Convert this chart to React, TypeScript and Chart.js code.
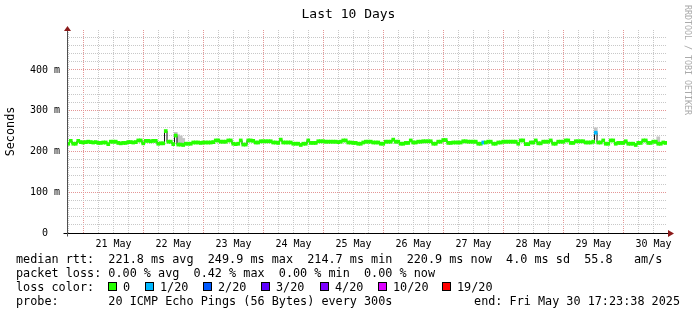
import React, { useEffect, useRef } from "react";
import { Chart, registerables } from "chart.js";

Chart.register(...registerables);

// ---------- text ----------
const TITLE = "Last 10 Days";
const Y_TITLE = "Seconds";
const CREDIT = "RRDTOOL / TOBI OETIKER";
const STAT_LINES = [
  "median rtt:  221.8 ms avg  249.9 ms max  214.7 ms min  220.9 ms now  4.0 ms sd  55.8   am/s",
  "packet loss: 0.00 % avg  0.42 % max  0.00 % min  0.00 % now",
];
const LOSS_TITLE = "loss color:";
const PROBE_TEXT = "probe:       20 ICMP Echo Pings (56 Bytes) every 300s";
const END_TEXT = "end: Fri May 30 17:23:38 2025";

// ---------- axes ----------
const SPAN_HOURS = 240; // 20 May 17:23:38 -> 30 May 17:23:38
const FIRST_MIDNIGHT_HOUR = 6.606; // 21 May 00:00 relative to start
const DAY_LABELS = ["21 May", "22 May", "23 May", "24 May", "25 May", "26 May", "27 May", "28 May", "29 May", "30 May"];
const Y_MAX_MS = 498;
const Y_TICK_MS = [0, 20, 40, 60, 80, 100, 120, 140, 160, 180, 200, 220, 240, 260, 280, 300, 320, 340, 360, 380, 400, 420, 440, 460, 480];

// ---------- data: hourly median rtt (ms) ----------
const MEDIAN_MS = [
  219, 226, 219, 219, 226, 223, 222, 223, 224, 223,
  222, 223, 221, 221, 222, 222, 218, 224, 224, 224,
  221, 220, 221, 221, 223, 223, 222, 223, 227, 227,
  220, 226, 226, 225, 226, 226, 219, 220, 220, 250,
  224, 224, 218, 239, 217, 217, 216, 219, 219, 219,
  222, 222, 222, 221, 222, 222, 222, 222, 223, 227,
  227, 224, 224, 224, 227, 227, 219, 218, 219, 227,
  217, 217, 227, 227, 226, 222, 222, 225, 225, 225,
  225, 225, 222, 222, 221, 229, 222, 222, 222, 222,
  219, 219, 219, 216, 219, 219, 227, 221, 221, 221,
  225, 225, 225, 224, 224, 224, 224, 224, 223, 224,
  227, 227, 222, 222, 221, 221, 219, 219, 222, 224,
  224, 224, 222, 222, 222, 219, 219, 224, 224, 224,
  229, 224, 224, 219, 219, 221, 221, 227, 222, 222,
  224, 224, 225, 225, 225, 225, 219, 219, 224, 224,
  228, 228, 221, 221, 222, 222, 222, 222, 225, 225,
  224, 224, 224, 224, 219, 219, 222, 222, 224, 224,
  219, 219, 222, 222, 224, 224, 224, 224, 224, 224,
  219, 227, 227, 218, 218, 222, 222, 227, 220, 220,
  224, 224, 224, 227, 219, 219, 224, 224, 224, 227,
  227, 221, 221, 225, 225, 225, 225, 222, 222, 222,
  224, 246, 222, 222, 227, 219, 219, 227, 227, 219,
  221, 221, 221, 225, 219, 219, 219, 216, 221, 221,
  227, 227, 221, 221, 224, 224, 219, 219, 222, 221,
];
const LOSS_HOURS = [166, 211];
const LOSS_PINGS = [1, 1];
const SMOKE_HOURS = [43, 44, 45, 46, 211, 236];
const SMOKE_TOP_MS = [247, 241, 238, 232, 258, 236];

// ---------- loss legend ----------
const LOSS_STEPS = [0, 1, 2, 3, 4, 10, 19];
const LOSS_LABELS = ["0", "1/20", "2/20", "3/20", "4/20", "10/20", "19/20"];
const LOSS_COLORS = ["#26ff00", "#00b8ff", "#0059ff", "#5e00ff", "#7e00ff", "#dd00ff", "#ff0000"];
const LOSS_BOX_LEFT = [108, 145, 203, 261, 320, 378, 442];

const MONO = '"DejaVu Sans Mono", monospace';
const GRID_COLOR = "rgb(200,200,200)";
const MGRID_COLOR = "rgb(228,150,150)";

function lossColor(pings: number): string {
  let c = LOSS_COLORS[0];
  LOSS_STEPS.forEach((s, i) => {
    if (pings >= s) c = LOSS_COLORS[i];
  });
  return c;
}

function stepIndex(v: number): number {
  return Math.round((v - FIRST_MIDNIGHT_HOUR) / 6);
}

// 6-hourly grid positions (hours from start), aligned on midnights
const X_GRID_HOURS: number[] = [];
for (let k = -1; k < 60; k++) {
  const v = FIRST_MIDNIGHT_HOUR + 6 * k;
  if (v >= 0 && v <= SPAN_HOURS) X_GRID_HOURS.push(v);
}

const axesPlugin = {
  id: "rrdAxes",
  afterDraw(chart: any) {
    const { ctx, chartArea } = chart;
    const left = Math.round(chartArea.left) + 0.5;
    const right = Math.round(chartArea.right);
    const top = Math.round(chartArea.top);
    const bottom = Math.round(chartArea.bottom) + 0.5;
    ctx.save();
    ctx.lineWidth = 1;
    ctx.strokeStyle = "#000";
    ctx.beginPath();
    ctx.moveTo(left - 4, bottom);
    ctx.lineTo(right + 1, bottom);
    ctx.stroke();
    ctx.strokeStyle = "#505050";
    ctx.beginPath();
    ctx.moveTo(left, bottom + 3);
    ctx.lineTo(left, top + 1);
    ctx.stroke();
    ctx.fillStyle = "#8b1a1a";
    ctx.beginPath();
    ctx.moveTo(left - 3.5, top + 1);
    ctx.lineTo(left + 3.5, top + 1);
    ctx.lineTo(left, top - 4);
    ctx.closePath();
    ctx.fill();
    ctx.beginPath();
    ctx.moveTo(right + 1, bottom - 3.5);
    ctx.lineTo(right + 1, bottom + 3.5);
    ctx.lineTo(right + 7, bottom);
    ctx.closePath();
    ctx.fill();
    ctx.restore();
  },
};

export default function App() {
  const canvasRef = useRef<HTMLCanvasElement | null>(null);

  useEffect(() => {
    document.body.style.margin = "0";
    const canvas = canvasRef.current;
    if (!canvas) return;
    const BAND = 3.8;
    const medianBand = MEDIAN_MS.map((v, i) => ({ x: i + 0.5, y: [v - BAND, v + BAND] }));
    const bandColors = MEDIAN_MS.map((_, i) => {
      const j = LOSS_HOURS.indexOf(i);
      return lossColor(j < 0 ? 0 : LOSS_PINGS[j]);
    });
    const medianLine = MEDIAN_MS.map((v, i) => ({ x: i + 0.5, y: v }));
    const smoke = SMOKE_HOURS.map((h, j) => ({ x: h + 0.5, y: [MEDIAN_MS[h], SMOKE_TOP_MS[j]] }));

    const xGridColors = X_GRID_HOURS.map((v) => {
      const k = stepIndex(v);
      return k >= 0 && k % 4 === 0 ? MGRID_COLOR : GRID_COLOR;
    });
    const yGridColors = Y_TICK_MS.map((v) => (v % 100 === 0 ? MGRID_COLOR : GRID_COLOR));

    const chart = new Chart(canvas, {
      type: "line",
      data: {
        datasets: [
          {
            type: "bar",
            label: "median",
            data: medianBand as any,
            backgroundColor: bandColors,
            borderWidth: 0,
            barThickness: 3,
            grouped: false,
            order: 0,
          } as any,
          {
            type: "line",
            label: "edge",
            data: medianLine as any,
            stepped: "middle",
            borderColor: "#111111",
            borderWidth: 1,
            pointRadius: 0,
            fill: false,
            order: 1,
          } as any,
          {
            type: "bar",
            label: "smoke",
            data: smoke as any,
            backgroundColor: "#c4c4c4",
            borderWidth: 0,
            barThickness: 3,
            grouped: false,
            order: 2,
          } as any,
        ],
      },
      options: {
        animation: false,
        responsive: false,
        devicePixelRatio: 1,
        events: [],
        layout: { padding: { top: 30, left: 0, right: 30, bottom: 62 } },
        plugins: { legend: { display: false }, tooltip: { enabled: false }, title: { display: false } },
        scales: {
          x: {
            type: "linear",
            min: 0,
            max: SPAN_HOURS,
            offset: false,
            afterBuildTicks: (scale: any) => {
              scale.ticks = X_GRID_HOURS.map((v) => ({ value: v }));
            },
            afterFit: (scale: any) => {
              scale.height = 20;
            },
            grid: { offset: false, drawTicks: false, lineWidth: 1, color: xGridColors },
            border: { display: false, dash: [1, 1] },
            ticks: {
              autoSkip: false,
              maxRotation: 0,
              minRotation: 0,
              padding: 5,
              color: "#000",
              font: { family: MONO, size: 10 },
              callback: (v: any) => {
                const k = stepIndex(Number(v));
                if (k >= 2 && (k - 2) % 4 === 0) return DAY_LABELS[(k - 2) / 4] ?? "";
                return "";
              },
            },
          },
          y: {
            type: "linear",
            min: 0,
            max: Y_MAX_MS,
            afterBuildTicks: (scale: any) => {
              scale.ticks = Y_TICK_MS.map((v) => ({ value: v }));
            },
            afterFit: (scale: any) => {
              scale.width = 67;
            },
            grid: { drawTicks: false, lineWidth: 1, color: yGridColors },
            border: { display: false, dash: [1, 1] },
            ticks: {
              autoSkip: false,
              padding: 7,
              color: "#000",
              font: { family: MONO, size: 10 },
              callback: (v: any) => {
                const n = Number(v);
                if (n % 100 !== 0) return "";
                return n === 0 ? "0  " : `${n} m`;
              },
            },
            title: {
              display: true,
              text: Y_TITLE,
              color: "#000",
              font: { family: MONO, size: 11.8 },
              padding: { top: 4, bottom: 0 },
            },
          },
        },
      } as any,
      plugins: [axesPlugin],
    });
    return () => chart.destroy();
  }, []);

  const textStyle: React.CSSProperties = {
    position: "absolute",
    fontFamily: MONO,
    fontSize: "11.8px",
    lineHeight: "14px",
    whiteSpace: "pre",
    color: "#000",
  };

  return (
    <div style={{ position: "relative", width: 697, height: 315, background: "#fff", overflow: "hidden" }}>
      <canvas ref={canvasRef} width={697} height={315} style={{ position: "absolute", left: 0, top: 0 }} />
      <div
        style={{
          position: "absolute",
          left: 0,
          top: 6,
          width: 697,
          textAlign: "center",
          fontFamily: MONO,
          fontSize: "13px",
          lineHeight: "16px",
          color: "#000",
        }}
      >
        {TITLE}
      </div>
      <div
        style={{
          position: "absolute",
          left: 683,
          top: 5,
          writingMode: "vertical-rl",
          fontFamily: MONO,
          fontSize: "8.3px",
          lineHeight: "10px",
          color: "#aaaaaa",
          whiteSpace: "pre",
        }}
      >
        {CREDIT}
      </div>
      {STAT_LINES.map((line, i) => (
        <div key={i} style={{ ...textStyle, left: 16, top: 252 + i * 14 }}>
          {line}
        </div>
      ))}
      <div style={{ ...textStyle, left: 16, top: 280 }}>{LOSS_TITLE}</div>
      {LOSS_LABELS.map((lab, i) => (
        <React.Fragment key={lab}>
          <div
            style={{
              position: "absolute",
              left: LOSS_BOX_LEFT[i],
              top: 282,
              width: 9,
              height: 9,
              boxSizing: "border-box",
              border: "1px solid #000",
              background: LOSS_COLORS[i],
            }}
          />
          <div style={{ ...textStyle, left: LOSS_BOX_LEFT[i] + 15, top: 280 }}>{lab}</div>
        </React.Fragment>
      ))}
      <div style={{ ...textStyle, left: 16, top: 294 }}>{PROBE_TEXT}</div>
      <div style={{ ...textStyle, right: 17, top: 294 }}>{END_TEXT}</div>
    </div>
  );
}
